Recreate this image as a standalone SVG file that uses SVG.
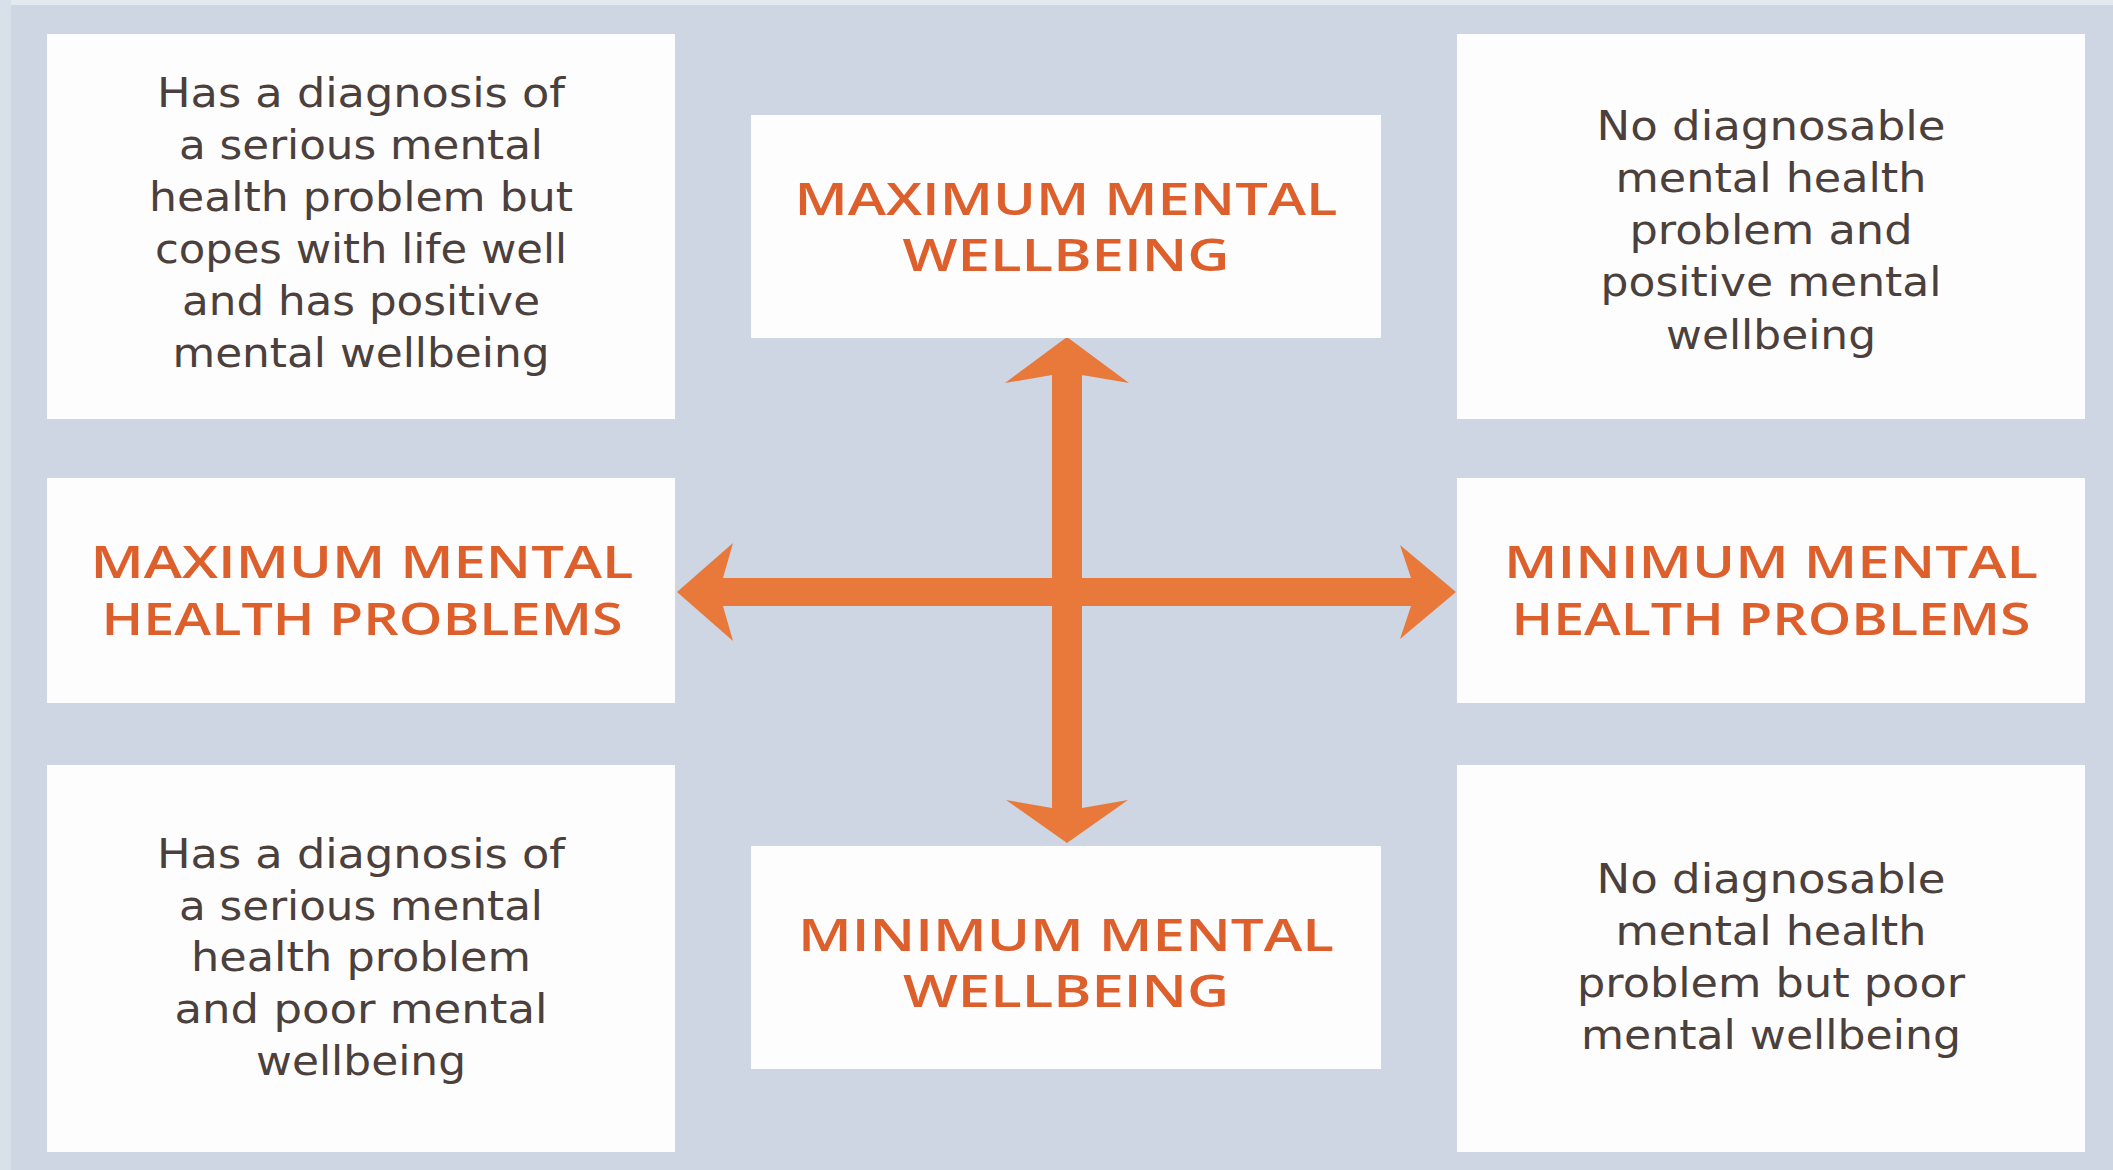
<svg xmlns="http://www.w3.org/2000/svg" width="2113" height="1170" viewBox="0 0 2113 1170">
  <style>
    .bg { fill: #cdd6e2; }
    .box { fill: #fdfdfd; }
    .body { font-family: "DejaVu Sans", "Liberation Sans", sans-serif; font-size: 41px; fill: #4b403c; text-anchor: middle; }
    .head { font-family: "Open Sans", "Liberation Sans", sans-serif; font-weight: 600; font-size: 45px; fill: #dd5f2c; text-anchor: middle; }
    .arrow { fill: #e8793a; }
  </style>

  <!-- backdrop -->
  <rect class="bg" x="0" y="0" width="2113" height="1170"/>
  <rect x="0" y="0" width="2113" height="5" fill="#e4e9f0"/>
  <rect x="0" y="0" width="11" height="1170" fill="#d8e0ea"/>

  <!-- axis arrows -->
  <g id="connectors">
    <rect class="arrow" x="1052" y="370" width="30" height="440"/>
    <rect class="arrow" x="718" y="578" width="696" height="28"/>
    <polygon class="arrow" points="1067,337 1129,383 1082,375 1052,375 1005,383"/>
    <polygon class="arrow" points="1067,843 1128,800 1082,808 1052,808 1006,800"/>
    <polygon class="arrow" points="677,592 733,543 723,578 723,606 733,641"/>
    <polygon class="arrow" points="1456,592 1400,545 1411,578 1411,606 1400,639"/>
  </g>

  <!-- quadrant descriptions -->
  <g id="top-left">
    <rect class="box" x="47" y="34" width="628" height="385"/>
    <text class="body" x="361" y="107" textLength="408" lengthAdjust="spacingAndGlyphs">Has a diagnosis of</text>
    <text class="body" x="361" y="159" textLength="364" lengthAdjust="spacingAndGlyphs">a serious mental</text>
    <text class="body" x="361" y="211" textLength="424" lengthAdjust="spacingAndGlyphs">health problem but</text>
    <text class="body" x="361" y="263" textLength="412" lengthAdjust="spacingAndGlyphs">copes with life well</text>
    <text class="body" x="361" y="315" textLength="358" lengthAdjust="spacingAndGlyphs">and has positive</text>
    <text class="body" x="361" y="367" textLength="377" lengthAdjust="spacingAndGlyphs">mental wellbeing</text>
  </g>

  <g id="top-right">
    <rect class="box" x="1457" y="34" width="628" height="385"/>
    <text class="body" x="1771" y="140" textLength="349" lengthAdjust="spacingAndGlyphs">No diagnosable</text>
    <text class="body" x="1771" y="192" textLength="311" lengthAdjust="spacingAndGlyphs">mental health</text>
    <text class="body" x="1771" y="244" textLength="283" lengthAdjust="spacingAndGlyphs">problem and</text>
    <text class="body" x="1771" y="296" textLength="341" lengthAdjust="spacingAndGlyphs">positive mental</text>
    <text class="body" x="1771" y="349" textLength="210" lengthAdjust="spacingAndGlyphs">wellbeing</text>
  </g>

  <g id="bottom-left">
    <rect class="box" x="47" y="765" width="628" height="387"/>
    <text class="body" x="361" y="868" textLength="408" lengthAdjust="spacingAndGlyphs">Has a diagnosis of</text>
    <text class="body" x="361" y="920" textLength="364" lengthAdjust="spacingAndGlyphs">a serious mental</text>
    <text class="body" x="361" y="971" textLength="340" lengthAdjust="spacingAndGlyphs">health problem</text>
    <text class="body" x="361" y="1023" textLength="373" lengthAdjust="spacingAndGlyphs">and poor mental</text>
    <text class="body" x="361" y="1075" textLength="210" lengthAdjust="spacingAndGlyphs">wellbeing</text>
  </g>

  <g id="bottom-right">
    <rect class="box" x="1457" y="765" width="628" height="387"/>
    <text class="body" x="1771" y="893" textLength="349" lengthAdjust="spacingAndGlyphs">No diagnosable</text>
    <text class="body" x="1771" y="945" textLength="311" lengthAdjust="spacingAndGlyphs">mental health</text>
    <text class="body" x="1771" y="997" textLength="388" lengthAdjust="spacingAndGlyphs">problem but poor</text>
    <text class="body" x="1771" y="1049" textLength="380" lengthAdjust="spacingAndGlyphs">mental wellbeing</text>
  </g>

  <!-- axis end labels -->
  <g id="max-wellbeing">
    <rect class="box" x="751" y="115" width="630" height="223"/>
    <text class="head" x="1066" y="215" textLength="543" lengthAdjust="spacingAndGlyphs">MAXIMUM MENTAL</text>
    <text class="head" x="1066" y="271" textLength="327" lengthAdjust="spacingAndGlyphs">WELLBEING</text>
  </g>

  <g id="min-wellbeing">
    <rect class="box" x="751" y="846" width="630" height="223"/>
    <text class="head" x="1066" y="951" textLength="536" lengthAdjust="spacingAndGlyphs">MINIMUM MENTAL</text>
    <text class="head" x="1066" y="1007" textLength="326" lengthAdjust="spacingAndGlyphs">WELLBEING</text>
  </g>

  <g id="max-problems">
    <rect class="box" x="47" y="478" width="628" height="225"/>
    <text class="head" x="362" y="578" textLength="543" lengthAdjust="spacingAndGlyphs">MAXIMUM MENTAL</text>
    <text class="head" x="362" y="635" textLength="521" lengthAdjust="spacingAndGlyphs">HEALTH PROBLEMS</text>
  </g>

  <g id="min-problems">
    <rect class="box" x="1457" y="478" width="628" height="225"/>
    <text class="head" x="1771" y="578" textLength="534" lengthAdjust="spacingAndGlyphs">MINIMUM MENTAL</text>
    <text class="head" x="1771" y="635" textLength="519" lengthAdjust="spacingAndGlyphs">HEALTH PROBLEMS</text>
  </g>
</svg>
